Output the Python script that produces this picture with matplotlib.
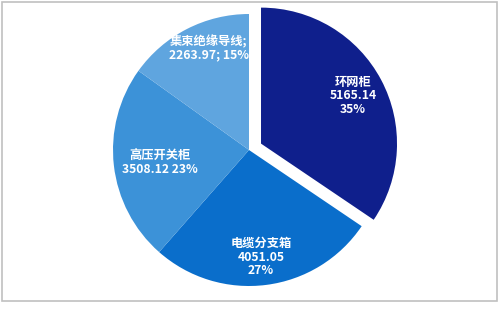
import matplotlib
matplotlib.use("Agg")
import matplotlib.pyplot as plt
from matplotlib.patches import Rectangle

plt.rcParams['font.family'] = ['Noto Sans CJK SC', 'DejaVu Sans']

# ── data ───────────────────────────────────────────────────────────────
categories = ["环网柜", "电缆分支箱", "高压开关柜", "集束绝缘导线"]
values = [5165.14, 4051.05, 3508.12, 2263.97]
pct_labels = ["35%", "27%", "23%", "15%"]

colors = ["#0f1f8c", "#0a6ecb", "#3c92d8", "#5fa5df"]
explode = [0.1, 0, 0, 0]
# label anchor points, in pie-radius units from the centre
label_pos = [(0.765, 0.40), (0.088, -0.787), (-0.654, -0.096), (-0.294, 0.75)]
label_fmt = ["{c}\n{v}\n{p}", "{c}\n{v}\n{p}", "{c}\n{v} {p}", "{c};\n{v}; {p}"]

W, H = 499, 310
cx, cy, R = 249, 150, 136   # pie centre and radius in pixels

fig = plt.figure(figsize=(W / 100, H / 100), dpi=100)
ax = fig.add_axes([0, 0, 1, 1])

wedges, _ = ax.pie(values, colors=colors, explode=explode, startangle=90,
                   counterclock=False, radius=1.0,
                   wedgeprops=dict(linewidth=0))

for cat, v, p, (x, y), fmt in zip(categories, values, pct_labels,
                                  label_pos, label_fmt):
    ax.text(x, y, fmt.format(c=cat, v=f"{v:.2f}", p=p),
            ha="center", va="center", color="white", fontsize=8.8,
            fontweight="bold", linespacing=1.05)

ax.set_xlim(-cx / R, (W - cx) / R)
ax.set_ylim(-(H - cy) / R, cy / R)
ax.set_aspect("auto")
ax.axis("off")

# thin grey frame around the chart area
fig.patches.append(Rectangle((1.5 / W, (H - 301) / H), (496.5 - 1.5) / W,
                             (301 - 1.5) / H, transform=fig.transFigure,
                             fill=False, edgecolor="#c0c0c0", linewidth=1.2))

fig.savefig("out.png", dpi=100)
